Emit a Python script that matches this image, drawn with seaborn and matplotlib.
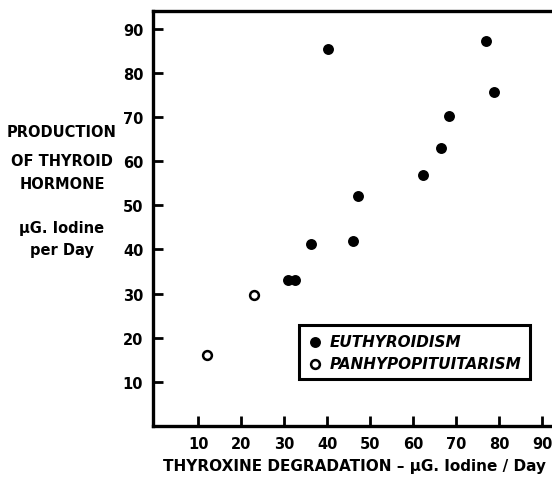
import matplotlib
matplotlib.use("Agg")
import matplotlib.pyplot as plt
import pandas as pd
import seaborn as sns

# thyroxine degradation (x) vs production of thyroid hormone (y), ug iodine / day
euthyroid_x = [40.2, 76.9, 78.8, 68.2, 66.4, 62.3, 47.1, 36.2, 46.1, 30.8, 32.6]
euthyroid_y = [85.3, 87.3, 75.6, 70.2, 62.9, 56.8, 52.1, 41.3, 41.9, 33.0, 33.0]
panhypo_x = [23.0, 12.0]
panhypo_y = [29.7, 16.1]

x_ticks = [10, 20, 30, 40, 50, 60, 70, 80, 90]
y_ticks = [10, 20, 30, 40, 50, 60, 70, 80, 90]

eu = pd.DataFrame({"x": euthyroid_x, "y": euthyroid_y})
pan = pd.DataFrame({"x": panhypo_x, "y": panhypo_y})

sns.set_style("ticks")
plt.rcParams["font.family"] = ["DejaVu Sans"]
plt.rcParams["font.weight"] = "bold"
plt.rcParams["text.color"] = "black"
plt.rcParams["axes.labelcolor"] = "black"

fig = plt.figure(figsize=(5.52, 4.81), dpi=100)
W, H = 552, 481
ax = fig.add_axes([153 / W, (H - 427) / H, 410.8 / W, 415 / H])

sns.scatterplot(data=eu, x="x", y="y", ax=ax, s=62, color="black",
                edgecolor="black", linewidth=0, label="EUTHYROIDISM", zorder=3)
sns.scatterplot(data=pan, x="x", y="y", ax=ax, s=40, facecolor="white",
                edgecolor="black", linewidth=1.8, label="PANHYPOPITUITARISM", zorder=3)

ax.set_xlim(-0.5, 95)
ax.set_ylim(0, 94)
ax.set_xticks(x_ticks)
ax.set_yticks(y_ticks)
ax.set_xlabel("")
ax.set_ylabel("")

for side in ["left", "bottom", "top", "right"]:
    ax.spines[side].set_linewidth(2.4)
    ax.spines[side].set_color("black")
ax.tick_params(direction="in", length=7, width=2, labelsize=10.5, pad=7, colors="black")
for lab in ax.get_xticklabels() + ax.get_yticklabels():
    lab.set_fontweight("bold")

leg = ax.legend(loc="lower left", bbox_to_anchor=(299 / W, (H - 380) / H),
                bbox_transform=fig.transFigure, borderaxespad=0, fancybox=False,
                frameon=True, handletextpad=0.45, labelspacing=0.45,
                handlelength=1.0, borderpad=0.55,
                prop={"style": "italic", "weight": "bold", "size": 11})
leg.get_frame().set_edgecolor("black")
leg.get_frame().set_linewidth(2.2)
leg.get_frame().set_alpha(1)
for t in leg.get_texts():
    t.set_color("black")

ylab = ["PRODUCTION", "OF THYROID", "HORMONE"]
ylab_y = [133, 162, 185]
for t, yy in zip(ylab, ylab_y):
    fig.text(62 / W, 1 - yy / H, t, ha="center", va="center", fontsize=10.5,
             fontweight="heavy", color="black")
fig.text(62 / W, 1 - 229 / H, "\u00b5G. Iodine", ha="center", va="center",
         fontsize=10.5, fontweight="heavy", color="black")
fig.text(62 / W, 1 - 250 / H, "per Day", ha="center", va="center",
         fontsize=10.5, fontweight="heavy", color="black")

fig.text(163 / W, 1 - 467 / H, "THYROXINE DEGRADATION \u2013 \u00b5G. Iodine / Day",
         ha="left", va="center", fontsize=11, fontweight="heavy", color="black")

fig.savefig("out.png", dpi=100)
plt.close(fig)
